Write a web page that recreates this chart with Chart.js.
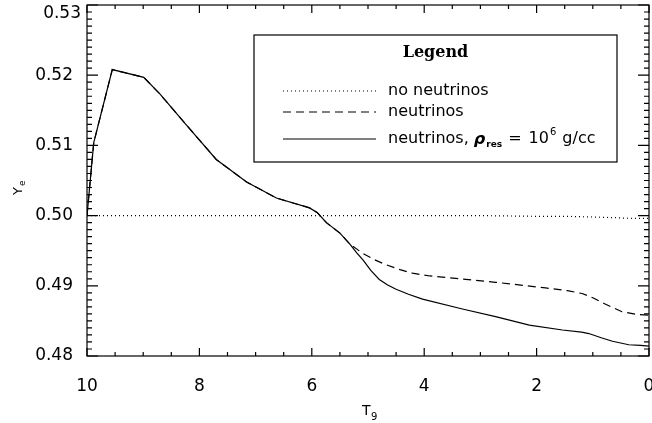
<!DOCTYPE html>
<html>
<head>
<meta charset="utf-8">
<script src="https://cdn.jsdelivr.net/npm/chart.js@4/dist/chart.umd.min.js"></script>
<style>
  html, body { margin: 0; padding: 0; background: #fff; }
  #wrap { width: 652px; height: 423px; }
</style>
</head>
<body>
<div id="wrap"><canvas id="yeChart"></canvas></div>
<script>
// Ye vs T9 -- three runs
const tempNoNu = [10, 9, 8, 7, 6, 5, 4, 3, 2, 1.5, 1.0, 0.6, 0.3, 0];
const yeNoNu   = [0.5, 0.5, 0.5, 0.5, 0.5, 0.5, 0.5, 0.5, 0.4999, 0.4999, 0.4998, 0.4997, 0.4996, 0.4996];

const tempNu = [10, 9.88, 9.55, 8.99, 8.70, 8.23, 7.70, 7.16, 6.63, 6.04, 5.90, 5.74, 5.50, 5.33, 5.09, 4.88, 4.68, 4.43, 4.21, 3.90, 3.62, 2.73, 1.84, 1.45, 1.19, 1.00, 0.78, 0.48, 0.20, 0];
const yeNu   = [0.500, 0.5104, 0.5208, 0.5197, 0.5173, 0.5129, 0.5080, 0.5048, 0.5025, 0.5011, 0.5004, 0.4990, 0.4975, 0.4960, 0.4946, 0.4937, 0.4930, 0.4923, 0.4918, 0.4914, 0.4912, 0.4905, 0.4897, 0.4893, 0.4889, 0.4883, 0.4874, 0.4863, 0.4859, 0.4858];

const tempRes = [10, 9.88, 9.55, 8.99, 8.70, 8.23, 7.70, 7.16, 6.63, 6.04, 5.90, 5.74, 5.50, 5.33, 5.20, 5.09, 4.95, 4.80, 4.65, 4.50, 4.28, 4.03, 3.32, 2.73, 2.13, 1.54, 1.20, 1.07, 0.85, 0.65, 0.36, 0.15, 0];
const yeRes   = [0.500, 0.5104, 0.5208, 0.5197, 0.5173, 0.5129, 0.5080, 0.5048, 0.5025, 0.5011, 0.5004, 0.4990, 0.4975, 0.4960, 0.4947, 0.4937, 0.4922, 0.4909, 0.4901, 0.4895, 0.4888, 0.4881, 0.4867, 0.4856, 0.4844, 0.4837, 0.4834, 0.4832, 0.4826, 0.4821, 0.4816, 0.4815, 0.4814];

const xTickStep = 2, xMinorStep = 0.5;
const yTickStep = 0.01, yMinorStep = 0.001;

function toPoints(xs, ys) {
    return xs.map((x, i) => ({ x: x, y: ys[i] }));
}

const FONT = '"DejaVu Sans", sans-serif';

// IDL-style box with inward ticks on all four sides
const frameTicks = {
    id: 'frameTicks',
    afterDraw(chart) {
        const ctx = chart.ctx;
        const a = chart.chartArea;
        const xs = chart.scales.x, ys = chart.scales.y;
        ctx.save();
        ctx.strokeStyle = '#000';
        ctx.lineWidth = 1.2;
        ctx.strokeRect(a.left, a.top, a.right - a.left, a.bottom - a.top);
        ctx.beginPath();
        for (let v = xs.min; v <= xs.max + 1e-9; v += xMinorStep) {
            const px = xs.getPixelForValue(v);
            const major = Math.abs(v / xTickStep - Math.round(v / xTickStep)) < 1e-6;
            const len = major ? 8 : 4;
            ctx.moveTo(px, a.bottom); ctx.lineTo(px, a.bottom - len);
            ctx.moveTo(px, a.top); ctx.lineTo(px, a.top + len);
        }
        for (let v = ys.min; v <= ys.max + 1e-9; v += yMinorStep) {
            const py = ys.getPixelForValue(v);
            const major = Math.abs(v / yTickStep - Math.round(v / yTickStep)) < 1e-4;
            const len = major ? 11 : 5;
            ctx.moveTo(a.left, py); ctx.lineTo(a.left + len, py);
            ctx.moveTo(a.right, py); ctx.lineTo(a.right - len, py);
        }
        ctx.stroke();

        ctx.fillStyle = '#000';
        // top y label pushed down inside the canvas
        ctx.font = '17px ' + FONT;
        ctx.textAlign = 'right';
        ctx.textBaseline = 'top';
        ctx.fillText(ys.max.toFixed(2), a.left - 6, a.top);

        // axis titles
        ctx.textBaseline = 'alphabetic';
        ctx.textAlign = 'left';
        ctx.font = '14px ' + FONT;
        const tx = (a.left + a.right) / 2 - 6;
        ctx.fillText('T', tx, 415);
        ctx.font = '10px ' + FONT;
        ctx.fillText('9', tx + 9, 420);

        ctx.save();
        ctx.translate(22, 195);
        ctx.rotate(-Math.PI / 2);
        ctx.font = '13px ' + FONT;
        ctx.fillText('Y', 0, 0);
        ctx.font = '9px ' + FONT;
        ctx.fillText('e', 9, 3);
        ctx.restore();
        ctx.restore();
    }
};

// boxed legend, top right
const boxLegend = {
    id: 'boxLegend',
    afterDraw(chart) {
        const ctx = chart.ctx;
        const bx = 254, by = 35, bw = 363, bh = 127;
        ctx.save();
        ctx.fillStyle = '#fff';
        ctx.fillRect(bx, by, bw, bh);
        ctx.strokeStyle = '#000';
        ctx.lineWidth = 1.2;
        ctx.strokeRect(bx, by, bw, bh);

        ctx.fillStyle = '#000';
        ctx.font = 'bold 16px "DejaVu Serif", serif';
        ctx.textAlign = 'center';
        ctx.textBaseline = 'middle';
        ctx.fillText('Legend', bx + bw / 2, 53);

        const rows = [
            { y: 91, dash: [1, 3], label: 'no neutrinos' },
            { y: 112, dash: [8, 5], label: 'neutrinos' },
            { y: 139, dash: [], label: 'neutrinos, ' }
        ];
        ctx.textAlign = 'left';
        rows.forEach((r, i) => {
            ctx.beginPath();
            ctx.setLineDash(r.dash);
            ctx.lineWidth = 1.2;
            ctx.moveTo(283, r.y);
            ctx.lineTo(376, r.y);
            ctx.stroke();
            ctx.setLineDash([]);
            ctx.font = '16px ' + FONT;
            ctx.fillText(r.label, 388, r.y);
            if (i === 2) {
                let x = 388 + ctx.measureText(r.label).width;
                ctx.font = 'bold italic 16px ' + FONT;
                ctx.fillText('\u03c1', x, r.y + 1);
                x += ctx.measureText('\u03c1').width + 1;
                ctx.font = 'bold 9px ' + FONT;
                ctx.fillText('res', x, r.y + 6);
                x += ctx.measureText('res').width + 6;
                ctx.font = '16px ' + FONT;
                ctx.fillText('=', x, r.y);
                x += ctx.measureText('=').width + 7;
                ctx.fillText('10', x, r.y);
                x += ctx.measureText('10').width + 1;
                ctx.font = '10px ' + FONT;
                ctx.fillText('6', x, r.y - 7);
                x += ctx.measureText('6').width + 6;
                ctx.font = '16px ' + FONT;
                ctx.fillText('g/cc', x, r.y);
            }
        });
        ctx.restore();
    }
};

new Chart(document.getElementById('yeChart'), {
    type: 'scatter',
    data: {
        datasets: [{
            label: 'no neutrinos',
            data: toPoints(tempNoNu, yeNoNu),
            borderColor: '#000',
            borderWidth: 1.2,
            borderDash: [1, 3],
            showLine: true,
            pointRadius: 0,
            tension: 0
        }, {
            label: 'neutrinos',
            data: toPoints(tempNu, yeNu),
            borderColor: '#000',
            borderWidth: 1.2,
            borderDash: [8, 5],
            showLine: true,
            pointRadius: 0,
            tension: 0
        }, {
            label: 'neutrinos, rho_res = 10^6 g/cc',
            data: toPoints(tempRes, yeRes),
            borderColor: '#000',
            borderWidth: 1.2,
            showLine: true,
            pointRadius: 0,
            tension: 0
        }]
    },
    options: {
        responsive: true,
        maintainAspectRatio: false,
        animation: false,
        layout: { padding: { top: 5, right: 3, left: 0, bottom: 0 } },
        plugins: {
            legend: { display: false },
            tooltip: { enabled: false }
        },
        scales: {
            x: {
                type: 'linear',
                reverse: true,
                min: 0,
                max: 10,
                grid: { display: false },
                border: { display: false },
                ticks: {
                    stepSize: xTickStep,
                    color: '#000',
                    padding: 12,
                    font: { family: 'DejaVu Sans', size: 17 },
                    maxRotation: 0
                },
                afterFit(scale) {
                    scale.height = 67;
                    scale.paddingLeft = 0;
                    scale.paddingRight = 0;
                }
            },
            y: {
                min: 0.48,
                max: 0.53,
                grid: { display: false },
                border: { display: false },
                ticks: {
                    stepSize: yTickStep,
                    color: '#000',
                    padding: 6,
                    font: { family: 'DejaVu Sans', size: 17 },
                    // the top label is drawn by frameTicks so it stays on the canvas
                    callback: v => (Math.abs(v - 0.53) < 1e-6 ? '' : v.toFixed(2))
                },
                afterFit(scale) {
                    scale.width = 87;
                    scale.paddingTop = 0;
                    scale.paddingBottom = 0;
                }
            }
        }
    },
    plugins: [frameTicks, boxLegend]
});
</script>
</body>
</html>
